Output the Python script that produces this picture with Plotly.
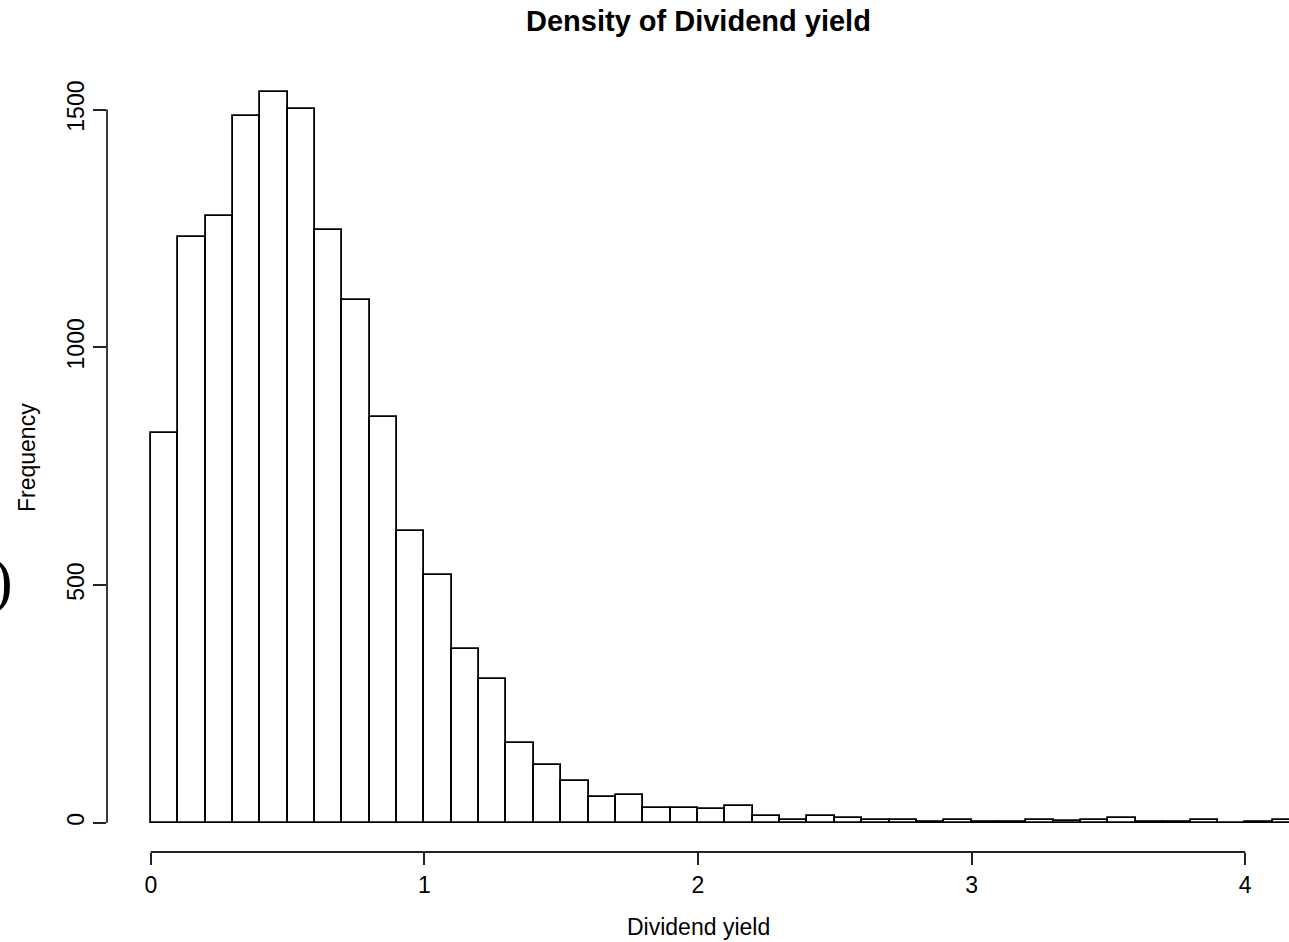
import plotly.graph_objects as go

# Histogram data (bin width 0.1)
bin_starts = [round(0.1 * i, 1) for i in range(42)]  # 0.0 ... 4.1
counts = [820, 1233, 1277, 1487, 1537, 1502, 1246, 1100, 854, 614,
          522, 366, 303, 168, 122, 87, 54, 58, 32, 32,
          28, 36, 15, 6, 15, 11, 6, 5, 2, 6,
          2, 2, 6, 3, 6, 11, 2, 2, 6, 0,
          2, 6]
bin_width = 0.1
x_ticks = [0, 1, 2, 3, 4]
y_ticks = [0, 500, 1000, 1500]

title_text = "Density of Dividend yield"
x_label = "Dividend yield"
y_label = "Frequency"

FONT = "Liberation Sans, Arial, sans-serif"
W, H = 1289, 942
ML, MR, MT, MB = 107, 0, 62, 90
PW, PH = W - ML - MR, H - MT - MB

def px_x(p):
    return (p - ML) / PW

def px_y(p):
    return (H - MB - p) / PH

fig = go.Figure(go.Bar(
    x=[s + bin_width / 2 for s in bin_starts],
    y=counts,
    width=bin_width,
    marker=dict(color="white", line=dict(color="black", width=1.8)),
    hoverinfo="x+y",
))

fig.update_layout(
    width=W, height=H,
    margin=dict(l=ML, r=MR, t=MT, b=MB, pad=0),
    plot_bgcolor="white", paper_bgcolor="white",
    showlegend=False,
    bargap=0,
    font=dict(family=FONT, color="black"),
    xaxis=dict(range=[-0.16, 4.16], tickvals=x_ticks, ticktext=[str(v) for v in x_ticks],
               showgrid=False, zeroline=False, showline=False,
               ticks="outside", ticklen=12, tickwidth=1.8, tickcolor="#222",
               tickfont=dict(size=23, family=FONT, color="black")),
    yaxis=dict(range=[-61.5, 1600], tickvals=y_ticks, ticktext=[str(v) for v in y_ticks],
               showgrid=False, zeroline=False, showline=False,
               ticks="outside", ticklen=13, tickwidth=1.8, tickcolor="#222",
               tickangle=-90,
               tickfont=dict(size=23, family=FONT, color="black")),
    shapes=[
        dict(type="line", xref="paper", yref="y", x0=0, x1=0, y0=y_ticks[0], y1=y_ticks[-1],
             line=dict(color="#222", width=1.8)),
        dict(type="line", xref="x", yref="paper", x0=x_ticks[0], x1=x_ticks[-1], y0=0, y1=0,
             line=dict(color="#222", width=1.8)),
    ],
    annotations=[
        dict(text="<b>" + title_text + "</b>", xref="x", yref="paper", x=2, y=px_y(21),
             xanchor="center", yanchor="middle", showarrow=False,
             font=dict(size=29, family=FONT, color="black")),
        dict(text=x_label, xref="x", yref="paper", x=2, y=px_y(927),
             xanchor="center", yanchor="middle", showarrow=False,
             font=dict(size=23, family=FONT, color="black")),
        dict(text=y_label, xref="paper", yref="paper", x=px_x(27), y=px_y(458),
             xanchor="center", yanchor="middle", textangle=-90, showarrow=False,
             font=dict(size=23, family=FONT, color="black")),
        dict(text=")", xref="paper", yref="paper", x=px_x(15), y=px_y(580),
             xanchor="right", yanchor="middle", showarrow=False,
             font=dict(size=62, family="Liberation Serif, Times New Roman, serif", color="black")),
    ],
)

fig.write_html("out.html")
